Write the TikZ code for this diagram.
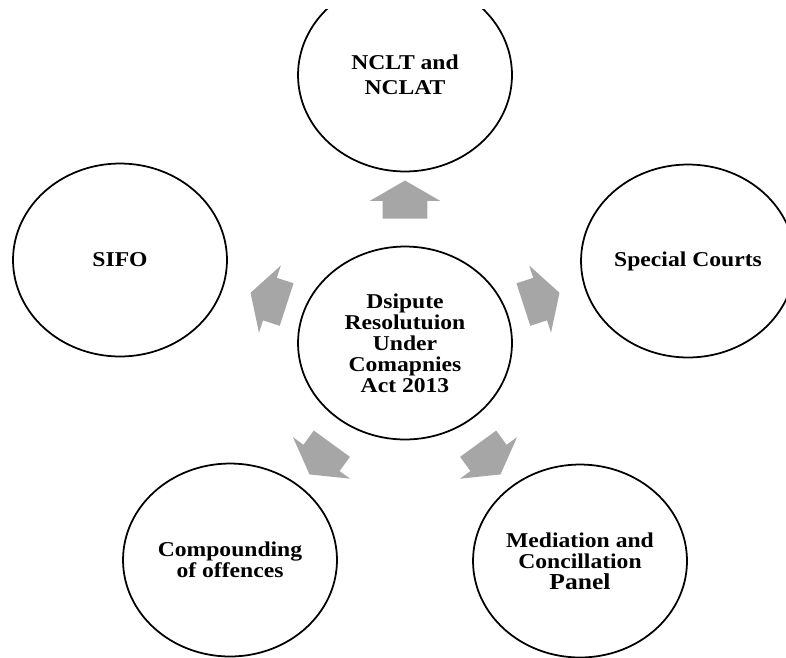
\documentclass[tikz,border=0pt]{standalone}
\usepackage{fontspec}
\setmainfont{Liberation Serif}[FakeStretch=1.12]
\usetikzlibrary{shapes.geometric,shapes.arrows,calc}

\definecolor{spokegray}{RGB}{166,166,166}

\begin{document}
\begin{tikzpicture}[
  x=0.02cm,
  y=0.02cm,
  bubble/.style={
    ellipse,
    draw=black,
    line width=1pt,
    minimum width=4.28cm,
    minimum height=3.86cm,
    inner sep=0pt,
    align=center,
    font=\bfseries\fontsize{12}{12}\selectfont
  },
  spoke/.style={
    single arrow,
    fill=spokegray,
    draw=none,
    text height=0.44cm,
    text depth=0.44cm,
    minimum height=0.76cm,
    single arrow head extend=0.26cm,
    single arrow tip angle=120,
    inner sep=0pt
  }
]
\useasboundingbox (0,0) rectangle (786,657);
\clip (0,0) rectangle (786,647);

\def\spokedist{137}

% hub and the five outer bubbles
\node[bubble] (hub) at (405,314) {Dsipute\\Resolutuion\\Under\\Comapnies\\Act 2013};
\node[bubble] (nclt) at (405,582) {NCLT and\\[2pt]NCLAT};
\node[bubble] (sifo) at (120,397) {SIFO};
\node[bubble] (courts) at (688,396) {Special Courts};
\node[bubble] (compound) at (230,97) {Compounding\\of offences};
\node[bubble] (mediation) at (580,96) {Mediation and\\Concillation\\{\fontsize{13}{12}\selectfont Panel}};

% block arrows pointing out from the hub
\foreach \a [count=\i] in {90,162,18,234,306} {
  \node[spoke, rotate=\a] (spoke-\i) at ($(hub)+(\a:\spokedist)$) {};
}
\end{tikzpicture}
\end{document}
